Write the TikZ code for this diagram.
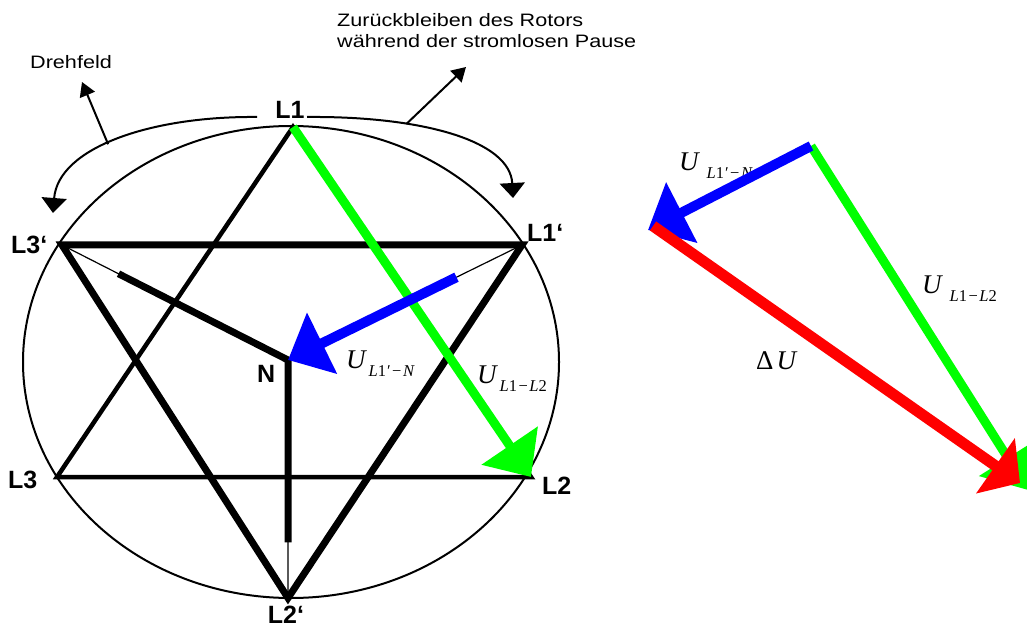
\documentclass[tikz,border=0pt]{standalone}
\usepackage{fontspec}
\setmainfont{Liberation Sans}
\newfontfamily\widesf[FakeStretch=1.2]{Liberation Sans}
\newfontfamily\timesf{Liberation Serif}
\usetikzlibrary{arrows.meta,calc}
\definecolor{VecGreen}{RGB}{0,255,0}
\definecolor{VecBlue}{RGB}{0,0,255}
\definecolor{VecRed}{RGB}{255,0,0}
\newcommand{\volt}[2][3pt]{{\timesf\itshape\fontsize{27}{27}\selectfont U}\kern#1\raisebox{-8pt}{\timesf\fontsize{16.5}{16.5}\selectfont #2}}
\newcommand{\subLN}{\textit{L}1\kern1pt′\kern1.5pt−\kern1.5pt\textit{N}}
\newcommand{\subLL}{\textit{L}1\kern1.5pt−\kern1.5pt\textit{L}2}

\begin{document}
\begin{tikzpicture}[x=1pt,y=-1pt,
  lbl/.style={font=\fontsize{25}{25}\selectfont\bfseries,inner sep=0pt},
  note/.style={font=\widesf\fontsize{18}{21.5}\selectfont,inner sep=0pt,align=left},
  vec/.style={line width=#1,-{Triangle[length=38pt,width=66pt]}},
  ptr/.style={line width=2pt,-{Triangle[length=14pt,width=16pt]}},
  swing/.style={line width=2pt,-{Triangle[length=15pt,width=25pt]}}]
\useasboundingbox (0,0) rectangle (1027,628);
\coordinate (L1) at (293,127);\coordinate (L3) at (57,477);\coordinate (L2) at (531,477);
\coordinate (L3p) at (62,245);\coordinate (L1p) at (522,245);\coordinate (L2p) at (288,598);
\coordinate (N) at (288,360);
\coordinate (S3) at ($(N)!.75!(L3p)$);\coordinate (S1) at ($(N)!.72!(L1p)$);\coordinate (S2) at ($(N)!.766!(L2p)$);
\draw[line width=2pt] (291,362) ellipse [x radius=268, y radius=236];
\draw[line width=4.5pt] (L1) -- (L3) -- (L2) -- cycle;
\draw[line width=7pt] (L3p) -- (L1p) -- (L2p) -- cycle;
\draw[line width=1.2pt] (N) -- (L3p) (N) -- (L1p) (N) -- (L2p);
\draw[line width=7pt] (S3) -- (N) -- (S2);
\draw[vec=9pt,VecGreen] (L1) -- (L2);
\draw[vec=10pt,VecBlue] (S1) -- (N);
\node[lbl,anchor=base] (tL1) at (290,119) {L1};
\node[lbl,anchor=base west] (tL1p) at (527,241) {L1‘};
\node[lbl,anchor=base west] (tL3p) at (11,254) {L3‘};
\node[lbl,anchor=base west] (tL3) at (8,488) {L3};
\node[lbl,anchor=base west] (tL2) at (542,494) {L2};
\node[lbl,anchor=base] (tL2p) at (286,623) {L2‘};
\node[lbl,anchor=base west] (tN) at (257,382) {N};
\node[anchor=base west,inner sep=0pt] (uLNa) at (346,368) {\volt{\subLN}};
\node[anchor=base west,inner sep=0pt] (uLLa) at (477,383) {\volt{\subLL}};
% Drehfeld und Nacheilen des Rotors
\coordinate (dfTip) at (82,82);\coordinate (rpTip) at (466,67);
\draw[swing] (257,117) .. controls (150,116) and (58,148) .. (53,213) coordinate[pos=.54] (dfFoot);
\draw[swing] (307,117) .. controls (420,116) and (510,140) .. (513,198) coordinate[pos=.32] (rpFoot);
\draw[ptr] (dfFoot) -- (dfTip);
\draw[ptr] (rpFoot) -- (rpTip);
\node[note,anchor=base west] (drehfeld) at (30,69) {Drehfeld};
\node[note,anchor=north west] (pause) at (337,13) {Zurückbleiben des Rotors\\während der stromlosen Pause};
% Zeigerdiagramm
\coordinate (O) at (811,146);\coordinate (Bt) at (648,230);\coordinate (Gt) at (1028,490);
\coordinate (Rs) at (653,226);\coordinate (Rt) at (1020,483);
\node[anchor=base west,inner sep=0pt] (uLNb) at (679,171) {\volt[8pt]{\subLN}};
\node[anchor=base west,inner sep=0pt] (uLLb) at (922,293) {\volt[8pt]{\subLL}};
\node[anchor=base west,inner sep=0pt] (dU) at (756,369) {\timesf\fontsize{27}{27}\selectfont Δ\kern3pt\itshape U};
\draw[vec=9pt,VecGreen] (O) -- (Gt);
\draw[vec=10pt,VecBlue] (O) -- (Bt);
\draw[vec=11pt,VecRed,-{Triangle[length=30pt,width=66pt]}] (Rs) -- (Rt);
\end{tikzpicture}
\end{document}
